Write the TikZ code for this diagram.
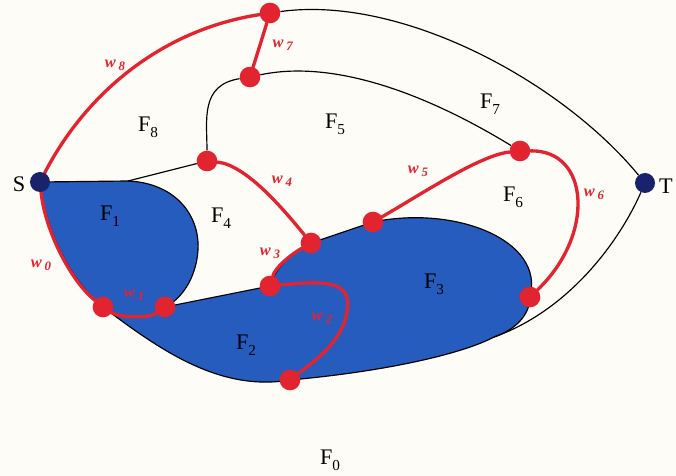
\documentclass[tikz,border=0pt]{standalone}
\usepackage{fontspec}
\setmainfont{Liberation Serif}
\pgfdeclarelayer{fondo}
\pgfsetlayers{fondo,main}
\definecolor{rojo}{RGB}{226,36,48}
\definecolor{azul}{RGB}{38,92,190}
\definecolor{azuloscuro}{RGB}{26,34,108}
\definecolor{papel}{RGB}{253,252,246}
\newcommand{\cara}[1]{F\raisebox{-0.55ex}{\fontsize{13}{13}\selectfont #1}}
\newcommand{\peso}[1]{\textit{w}\,\raisebox{-0.45ex}{\fontsize{11}{11}\selectfont\textit{#1}}}

\begin{document}
\begin{tikzpicture}[x=0.3mm, y=-0.3mm,
        punto/.style={circle, fill=rojo, inner sep=0pt, minimum size=6.2mm},
        terminal/.style={circle, fill=azuloscuro, inner sep=0pt, minimum size=6mm},
        arista/.style={rojo, line width=1mm, line cap=round},
        borde/.style={black, line width=0.35mm},
        cara/.style={fill=azul, draw=black, line width=0.35mm},
        etiqueta/.style={font=\fontsize{19}{22}\selectfont, inner sep=0pt},
        peso/.style={rojo, font=\fontsize{14}{16}\selectfont\bfseries, inner sep=0pt}
    ]
        \useasboundingbox (0,0) rectangle (676,476);

        % Vertices terminales
        \node[terminal] (s) at (40,182) {};
        \node[terminal] (t) at (645,183) {};
        \node[etiqueta] (ls) at (19,184) {S};
        \node[etiqueta, anchor=west] (lt) at (659,186) {T};

        % Puntos del camino
        \node[punto] (p1) at (270,13) {};
        \node[punto] (p2) at (250,77) {};
        \node[punto] (p3) at (207,161) {};
        \node[punto] (p4) at (311,243) {};
        \node[punto] (p5) at (270,286) {};
        \node[punto] (p6) at (290,380) {};
        \node[punto] (p7) at (103,307) {};
        \node[punto] (p8) at (165,307) {};
        \node[punto] (p9) at (373,222) {};
        \node[punto] (p10) at (520,151) {};
        \node[punto] (p11) at (530,297) {};
        \coordinate (j1) at (128,181);
        \coordinate (j2) at (494,337);

        \begin{pgfonlayer}{fondo}
            \fill[papel] (0,0) rectangle (676,476);

            % Caras F1, F2, F3
            \path[cara] (s.center) -- (j1) .. controls (175,183) and (200,215) .. (198,250)
                .. controls (196,280) and (180,300) .. (p8.center) -- (p5.center)
                .. controls (275,268) and (290,255) .. (p4.center) -- (p9.center)
                .. controls (455,205) and (545,240) .. (p11.center)
                .. controls (530,315) and (515,330) .. (j2)
                .. controls (460,355) and (380,372) .. (p6.center)
                .. controls (220,392) and (160,350) .. (p7.center)
                .. controls (70,280) and (45,230) .. (s.center) -- cycle;

            % Aristas negras
            \draw[borde] (p1) .. controls (400,-5) and (560,80) .. (t);
            \draw[borde] (p2) .. controls (330,60) and (420,90) .. (p10);
            \draw[borde] (p2) .. controls (200,85) and (207,120) .. (p3);
            \draw[borde] (p3) -- (j1);
            \draw[borde] (t) .. controls (620,240) and (570,310) .. (j2);

            % Camino rojo
            \draw[arista] (s) .. controls (85,95) and (160,30) .. (p1);
            \draw[arista] (p1) -- (p2);
            \draw[arista] (p3) .. controls (245,165) and (280,205) .. (p4);
            \draw[arista] (p5) .. controls (275,268) and (290,255) .. (p4);
            \draw[arista] (p5) .. controls (330,280) and (352,282) .. (347,312)
                .. controls (342,345) and (305,368) .. (p6);
            \draw[arista] (p7) .. controls (120,318) and (150,318) .. (p8);
            \draw[arista] (s) .. controls (45,230) and (70,280) .. (p7);
            \draw[arista] (p9) .. controls (420,195) and (480,155) .. (p10);
            \draw[arista] (p10) .. controls (590,150) and (595,235) .. (p11);
        \end{pgfonlayer}

        % Nombres de las caras
        \node[etiqueta] (f0) at (330,460) {\cara{0}};
        \node[etiqueta] (f1) at (110,216) {\cara{1}};
        \node[etiqueta] (f2) at (246,345) {\cara{2}};
        \node[etiqueta] (f3) at (434,284) {\cara{3}};
        \node[etiqueta] (f4) at (221,218) {\cara{4}};
        \node[etiqueta] (f5) at (335,124) {\cara{5}};
        \node[etiqueta] (f6) at (513,197) {\cara{6}};
        \node[etiqueta] (f7) at (490,104) {\cara{7}};
        \node[etiqueta] (f8) at (148,127) {\cara{8}};

        % Pesos
        \node[peso] (w0) at (41,265) {\peso{0}};
        \node[peso] (w1) at (134,295) {\peso{1}};
        \node[peso] (w2) at (322,318) {\peso{2}};
        \node[peso] (w3) at (270,253) {\peso{3}};
        \node[peso] (w4) at (282,181) {\peso{4}};
        \node[peso] (w5) at (418,171) {\peso{5}};
        \node[peso] (w6) at (594,194) {\peso{6}};
        \node[peso] (w7) at (283,45) {\peso{7}};
        \node[peso] (w8) at (115,65) {\peso{8}};
    \end{tikzpicture}
\end{document}
